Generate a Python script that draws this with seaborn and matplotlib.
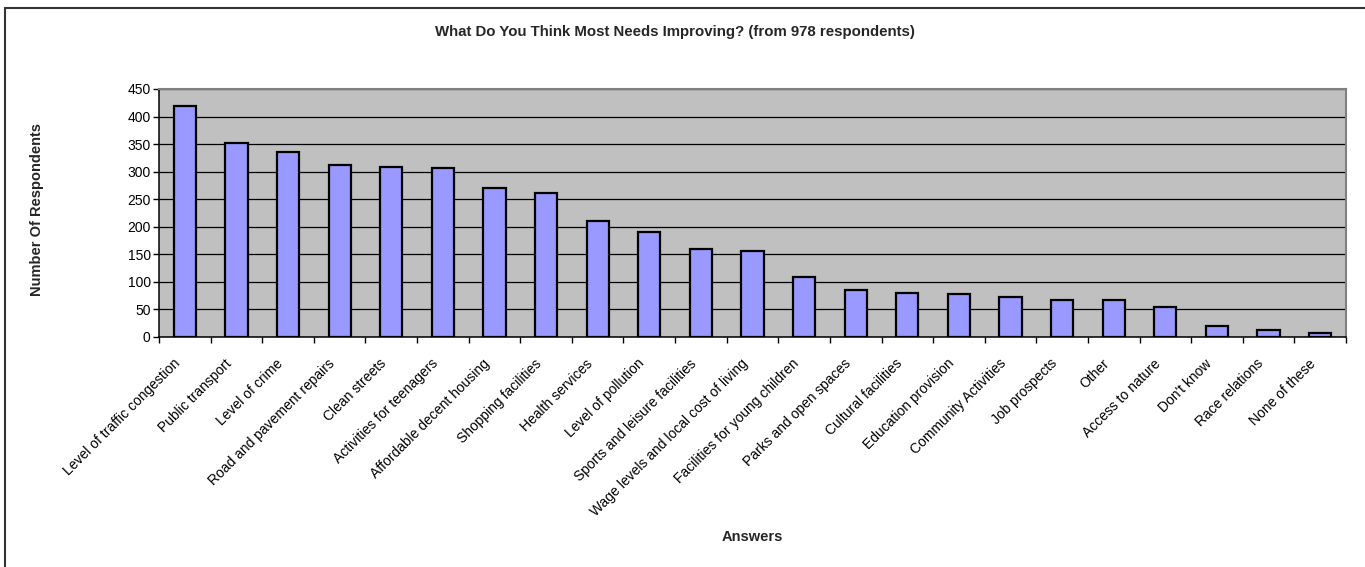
import matplotlib
matplotlib.use("Agg")
import matplotlib.pyplot as plt
from matplotlib.lines import Line2D
from matplotlib.ticker import FixedLocator, MultipleLocator
from matplotlib.transforms import ScaledTranslation
import numpy as np
import pandas as pd
import seaborn as sns

answers = [
    "Level of traffic congestion", "Public transport", "Level of crime",
    "Road and pavement repairs", "Clean streets", "Activities for teenagers",
    "Affordable decent housing", "Shopping facilities", "Health services",
    "Level of pollution", "Sports and leisure facilities",
    "Wage levels and local cost of living", "Facilities for young children",
    "Parks and open spaces", "Cultural facilities", "Education provision",
    "Community Activities", "Job prospects", "Other", "Access to nature",
    "Don't know", "Race relations", "None of these",
]
respondents = [419, 352, 336, 313, 308, 306, 270, 262, 210, 191, 160, 156,
               109, 86, 80, 78, 73, 68, 68, 54, 20, 12, 7]

df = pd.DataFrame({"Answer": answers, "Respondents": respondents})

sns.set_theme(style="white")
plt.rcParams["font.family"] = ["Liberation Sans", "DejaVu Sans"]

fig = plt.figure(figsize=(13.65, 5.67), dpi=100)
ax = fig.add_axes([159 / 1365, 1 - 337 / 567, (1346 - 159) / 1365, (337 - 89) / 567])
ax.set_facecolor("#C0C0C0")

sns.barplot(data=df, x="Answer", y="Respondents", color="#9999FF",
            saturation=1, edgecolor="black", linewidth=1.6, width=0.43, ax=ax)

ax.set_xlim(-0.5, len(answers) - 0.5)
ax.set_ylim(0, 450)
ax.yaxis.set_major_locator(MultipleLocator(50))
ax.set_axisbelow(True)
ax.grid(axis="y", color="black", linewidth=0.9)
ax.grid(axis="x", visible=False)

# category labels at centres, tick marks between categories
ax.set_xticks(range(len(answers)))
ax.xaxis.set_minor_locator(FixedLocator(np.arange(-0.5, len(answers), 1.0)))
ax.tick_params(axis="x", which="major", length=0, pad=14)
ax.tick_params(axis="x", which="minor", bottom=True, length=4, width=1,
               color="black", direction="out")
ax.tick_params(axis="y", left=True, length=4, width=1, color="black",
               direction="out", labelsize=10, labelcolor="black", pad=2)
ax.set_xticklabels(answers, rotation=45, ha="right", va="center",
                   rotation_mode="anchor", fontsize=10, color="black")
shift = ScaledTranslation(-0.07, -0.05, fig.dpi_scale_trans)
for lbl in ax.get_xticklabels():
    lbl.set_transform(lbl.get_transform() + shift)

for side in ("left", "bottom"):
    ax.spines[side].set_color("black")
    ax.spines[side].set_linewidth(1.1)
for side in ("top", "right"):
    ax.spines[side].set_color("#808080")
    ax.spines[side].set_linewidth(1.5)

ax.set_xlabel("")
ax.set_ylabel("")
fig.text(37 / 1365, 1 - 210 / 567, "Number Of Respondents", rotation=90,
         ha="center", va="center", fontsize=10.5, fontweight="bold")
fig.text(752 / 1365, 1 - 537 / 567, "Answers", ha="center", va="center",
         fontsize=10.5, fontweight="bold")
fig.text(675 / 1365, 1 - 32 / 567,
         "What Do You Think Most Needs Improving? (from 978 respondents)",
         ha="center", va="center", fontsize=10.8, fontweight="bold")

# outer chart frame (top and left edges)
fig.add_artist(Line2D([4.5 / 1365, 4.5 / 1365], [0, 1 - 7.5 / 567],
                      color="#333333", linewidth=1.5, transform=fig.transFigure))
fig.add_artist(Line2D([4.5 / 1365, 1], [1 - 7.5 / 567, 1 - 7.5 / 567],
                      color="#333333", linewidth=1.5, transform=fig.transFigure))

fig.savefig("out.png", dpi=100, facecolor="white")
